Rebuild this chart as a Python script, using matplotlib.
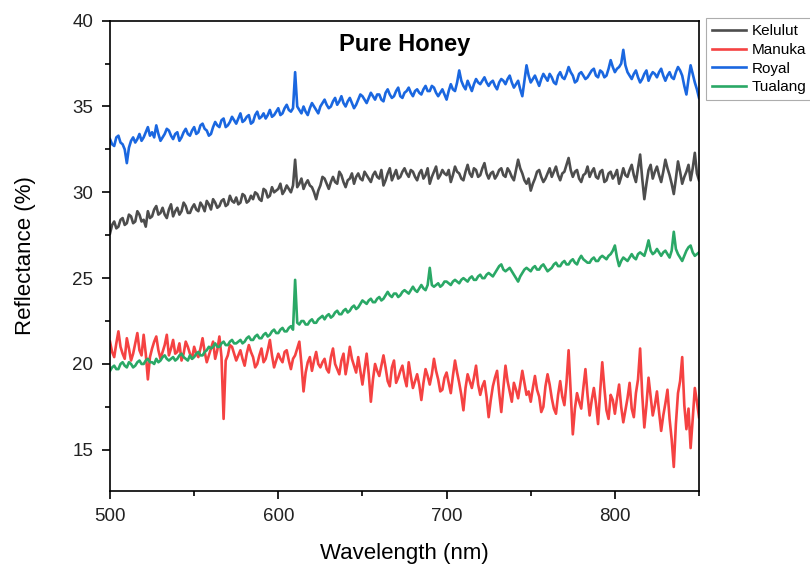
import numpy as np
import matplotlib
matplotlib.use("Agg")
import matplotlib.pyplot as plt
from matplotlib.ticker import MultipleLocator

plt.rcParams['font.family'] = ['Liberation Sans', 'DejaVu Sans']

# wavelength grid (nm), 1.25 nm step
wavelength = np.arange(500, 850.01, 1.25)

kelulut = [
    27.6, 28.1, 28.3, 27.9, 28.0, 28.4, 28.5, 28.1, 28.2, 28.7, 28.6, 28.2, 28.3, 28.9, 28.7, 28.3, 28.4, 28.0, 28.9, 28.5,
    28.6, 29.0, 29.2, 28.7, 28.8, 29.1, 28.7, 28.5, 29.0, 29.3, 28.6, 28.9, 29.1, 28.7, 28.9, 29.4, 29.2, 28.8, 28.8, 29.1,
    29.3, 29.0, 28.9, 29.4, 29.2, 28.9, 29.5, 29.3, 29.0, 29.6, 29.4, 29.1, 29.2, 29.5, 29.6, 29.2, 29.3, 29.8, 29.5, 29.4,
    29.7, 29.3, 29.4, 29.9, 29.8, 29.4, 29.5, 29.8, 29.6, 30.0, 29.9, 29.6, 29.5, 30.2, 30.1, 29.7, 29.8, 30.3, 30.0, 30.1,
    30.2, 30.5, 29.9, 30.1, 30.4, 30.2, 30.0, 30.4, 31.9, 30.3, 30.5, 30.8, 30.2, 30.5, 30.7, 30.4, 30.3, 30.0, 29.6, 30.1,
    30.4, 30.9, 30.8, 30.5, 30.2, 30.6, 30.9, 30.6, 30.5, 31.2, 31.0, 30.6, 30.3, 30.7, 30.8, 31.1, 30.5, 30.9, 31.1, 30.8,
    30.7, 31.2, 31.0, 30.8, 30.6, 31.0, 31.2, 30.9, 30.8, 31.3, 30.4, 30.7, 31.1, 31.4, 30.7, 31.0, 31.3, 30.8, 30.9, 31.2,
    31.4, 31.1, 30.9, 31.3, 31.2, 30.9, 30.7, 31.1, 31.3, 30.8, 31.0, 31.4, 30.5, 30.9, 31.2, 31.5, 30.8, 31.0, 31.3, 31.1,
    31.0, 31.3, 30.6, 31.0, 31.5, 31.2, 31.1, 30.8, 30.7, 31.2, 31.6, 31.1, 30.9, 31.4, 31.3, 30.9, 31.0, 31.4, 31.7, 31.1,
    30.8, 31.1, 31.2, 30.8, 31.0, 31.3, 31.4, 31.0, 30.9, 31.4, 31.2, 30.9, 30.7, 31.3, 31.9, 31.4, 31.1, 30.7, 30.5, 30.8,
    30.1, 30.5, 30.8, 31.2, 31.3, 30.9, 30.6, 30.8, 31.1, 31.4, 30.9, 31.2, 31.5, 31.0, 30.7, 31.1, 31.2, 31.6, 32.0, 31.3,
    30.9, 31.2, 31.3, 30.8, 30.6, 31.0, 31.1, 31.5, 30.9, 31.2, 31.4, 30.9, 30.8, 31.2, 31.3, 30.6, 30.7, 31.1, 31.2, 30.8,
    31.0, 31.3, 30.5, 30.9, 31.4, 31.0, 30.9, 31.3, 31.6, 31.0, 30.6, 31.4, 32.2, 30.8, 29.6, 30.5, 31.3, 31.6, 30.8, 31.2,
    31.5, 31.0, 30.6, 31.2, 31.9, 31.4, 31.0, 30.5, 29.9, 30.8, 31.8, 31.2, 30.5, 30.9, 31.2, 31.6, 30.7, 31.4, 32.3, 31.1,
    30.7,
]

manuka = [
    21.3, 20.7, 20.4, 21.2, 21.9, 21.0, 20.6, 20.3, 21.5, 20.9, 20.2, 20.6, 21.2, 21.8, 20.8, 20.5, 21.7, 20.6, 19.1, 20.4,
    20.9, 21.3, 21.6, 20.8, 20.3, 20.7, 21.1, 21.7, 20.5, 20.9, 21.4, 20.6, 20.7, 21.2, 20.2, 20.6, 21.3, 21.0, 20.6, 20.3,
    21.0, 20.6, 20.4, 20.9, 21.5, 20.7, 20.1, 20.5, 20.9, 21.3, 20.3, 20.8, 21.6, 20.4, 16.8, 20.2, 20.5, 21.1, 21.0, 20.6,
    20.2, 20.5, 20.8, 20.3, 19.9, 20.6, 21.1, 20.7, 20.4, 19.8, 20.0, 20.5, 20.9, 20.1, 20.3, 20.8, 21.4, 20.5, 19.8, 20.2,
    20.6, 20.3, 20.1, 20.7, 20.8, 20.2, 19.7, 20.3, 20.5, 20.9, 21.3, 20.0, 18.4, 19.5, 20.1, 20.4, 19.6, 20.2, 20.7, 20.0,
    19.8, 20.1, 20.3, 19.7, 19.5, 20.4, 20.9, 20.0, 19.7, 19.4, 20.2, 20.6, 19.4, 20.1, 21.0, 20.3, 19.9, 19.5, 20.4, 19.6,
    18.8, 19.7, 20.6, 19.4, 17.8, 19.1, 20.0, 19.6, 19.3, 19.9, 20.5, 19.8, 19.0, 18.7, 19.8, 20.2, 18.9, 19.2, 19.6, 19.9,
    19.2, 18.7, 20.1, 19.3, 18.6, 19.0, 19.4, 18.8, 17.9, 18.9, 19.7, 19.3, 18.8, 19.4, 20.3, 19.6, 19.1, 18.4, 18.5, 19.2,
    19.5, 18.9, 18.3, 19.3, 20.2, 19.5, 18.9, 18.2, 17.3, 18.6, 19.4, 19.0, 18.6, 19.2, 19.9, 18.8, 18.2, 18.7, 19.0, 18.1,
    16.9, 17.9, 18.7, 19.2, 19.6, 18.3, 17.2, 18.6, 19.9, 19.0, 18.4, 17.8, 18.9, 18.5, 18.0, 18.8, 19.6, 18.9, 18.2, 18.4,
    17.8, 18.6, 19.3, 18.5, 18.1, 17.2, 17.5, 18.7, 19.4, 18.8, 18.0, 17.4, 17.1, 18.2, 19.0, 18.1, 17.6, 18.9, 20.8, 18.3,
    15.9, 17.4, 18.3, 17.8, 17.4, 18.6, 19.7, 18.2, 17.0, 17.9, 18.6, 17.7, 16.5, 18.4, 20.1, 18.6, 17.3, 16.8, 18.2, 17.9,
    17.1, 18.0, 18.8, 17.5, 16.6, 17.3, 18.0, 18.9, 17.4, 16.9, 18.3, 19.1, 20.9, 18.2, 16.3, 17.6, 19.2, 18.1, 17.0, 17.6,
    18.4, 17.2, 16.1, 17.0, 17.7, 18.5, 16.8, 15.6, 14.0, 16.5, 18.3, 19.0, 20.4, 17.6, 16.2, 17.4, 15.1, 16.8, 18.6, 17.8,
    16.9,
]

royal = [
    33.1, 32.8, 32.7, 33.2, 33.3, 32.9, 32.8, 32.5, 31.7, 32.6, 33.0, 33.2, 32.9, 33.1, 33.4, 33.0, 33.2, 33.5, 33.8, 33.3,
    33.5, 33.2, 33.9, 33.4, 33.0, 33.2, 33.4, 33.7, 33.6, 33.3, 33.1, 33.4, 33.5, 33.0, 33.2, 33.5, 33.7, 33.4, 33.3, 33.6,
    33.8, 33.4, 33.5, 33.9, 34.0, 33.7, 33.6, 33.3, 33.4, 33.8, 34.1, 33.9, 33.8, 34.2, 34.3, 33.8, 33.9, 34.1, 34.4, 34.2,
    34.0, 34.3, 34.6, 34.1, 34.2, 34.4, 34.5, 34.0, 34.1, 34.5, 34.7, 34.3, 34.4, 34.6, 34.3, 34.5, 34.8, 34.4, 34.5, 34.7,
    34.9, 34.5, 34.6, 34.9, 35.1, 34.8, 34.7, 34.9, 37.0, 35.0, 34.8, 34.6, 35.0, 34.7, 34.5, 34.9, 35.2, 35.0, 34.8, 34.6,
    35.0, 35.2, 35.4, 35.1, 34.9, 35.0, 35.3, 35.5, 35.1, 35.3, 35.6, 35.2, 35.0, 35.3, 35.5, 35.2, 34.9, 35.1, 35.4, 35.7,
    35.6, 35.4, 35.2, 35.5, 35.8, 35.6, 35.4, 35.7, 35.7, 35.4, 35.3, 35.8, 36.0, 35.7, 35.5, 35.6, 35.9, 36.1, 35.6, 35.5,
    35.8, 35.9, 36.1, 35.8, 35.6, 35.9, 36.0, 35.8, 35.7, 36.0, 36.2, 35.9, 35.9, 36.2, 36.1, 35.8, 35.6, 35.8, 36.0, 35.7,
    35.4, 35.9, 36.3, 36.0, 35.9, 36.4, 37.1, 36.5, 36.2, 36.0, 36.5, 36.2, 35.9, 36.3, 36.6, 36.4, 36.3, 36.5, 36.7, 36.4,
    36.2, 36.4, 36.5, 36.2, 36.0, 36.4, 36.6, 36.5, 36.3, 36.6, 36.8, 36.4, 36.1, 36.3, 36.5, 36.0, 35.6, 36.5, 37.4, 36.8,
    36.4, 36.6, 36.8, 36.5, 36.2, 36.6, 36.9, 36.7, 36.5, 36.9, 36.7, 36.4, 36.3, 36.8, 37.0, 36.7, 36.6, 36.9, 37.3, 37.0,
    36.8, 36.4, 36.5, 36.9, 37.0, 36.8, 36.6, 36.7, 36.9, 37.1, 37.2, 36.8, 36.7, 37.1, 37.0, 36.7, 36.8, 37.2, 37.7, 37.3,
    37.0, 37.2, 37.3, 37.5, 38.3, 37.4, 37.0, 36.8, 36.6, 36.9, 37.1, 36.7, 36.4, 36.6, 36.9, 37.1, 36.5, 36.8, 37.0, 36.9,
    36.7, 37.0, 37.2, 36.8, 36.5, 36.8, 37.0, 36.7, 36.6, 37.0, 37.3, 37.1, 36.8, 36.2, 35.7, 36.6, 37.4, 36.9, 36.4, 36.0,
    35.5,
]

tualang = [
    19.6, 19.8, 19.9, 19.7, 19.7, 20.0, 20.1, 19.9, 19.8, 20.1, 20.0, 19.8, 19.9, 20.1, 20.2, 20.0, 20.0, 20.2, 20.3, 20.1,
    20.1, 20.0, 20.3, 20.1, 20.2, 20.4, 20.5, 20.3, 20.2, 20.3, 20.4, 20.2, 20.3, 20.5, 20.6, 20.4, 20.3, 20.2, 20.5, 20.3,
    20.4, 20.6, 20.7, 20.5, 20.5, 20.7, 20.8, 21.0, 20.9, 21.0, 21.2, 21.0, 21.0, 21.2, 21.3, 21.1, 21.1, 21.3, 21.4, 21.2,
    21.2, 21.3, 21.4, 21.2, 21.3, 21.5, 21.6, 21.4, 21.4, 21.6, 21.7, 21.5, 21.5, 21.7, 21.8, 21.6, 21.7, 21.9, 22.0, 21.8,
    21.8, 22.0, 22.1, 21.9, 21.9, 22.1, 22.2, 22.0, 24.9, 22.4, 22.3, 22.5, 22.5, 22.3, 22.3, 22.5, 22.6, 22.4, 22.4, 22.6,
    22.7, 22.8, 22.6, 22.8, 22.9, 22.7, 22.8, 23.0, 23.1, 22.9, 22.9, 23.1, 23.2, 23.0, 23.1, 23.3, 23.4, 23.2, 23.3, 23.5,
    23.7, 23.6, 23.5, 23.7, 23.8, 23.6, 23.6, 23.8, 23.9, 23.7, 23.8, 24.0, 24.2, 24.0, 23.9, 24.1, 24.1, 23.9, 24.0, 24.2,
    24.3, 24.2, 24.1, 24.3, 24.5, 24.3, 24.2, 24.4, 24.6, 24.4, 24.3, 24.6, 25.6, 24.6, 24.5, 24.6, 24.7, 24.5, 24.6, 24.8,
    24.8, 24.7, 24.6, 24.8, 24.9, 24.8, 24.7, 24.9, 25.0, 24.9, 24.8, 25.0, 25.1, 24.9, 24.9, 25.1, 25.2, 25.0, 25.0, 25.2,
    25.3, 25.2, 25.1, 25.3, 25.5, 25.7, 25.8, 25.5, 25.4, 25.5, 25.6, 25.4, 25.2, 25.0, 24.8, 25.1, 25.3, 25.5, 25.6, 25.5,
    25.4, 25.6, 25.7, 25.5, 25.5, 25.7, 25.8, 25.6, 25.4, 25.5, 25.6, 25.8, 25.9, 25.7, 25.7, 25.9, 26.0, 25.8, 25.8, 26.0,
    26.1, 25.9, 25.8, 26.1, 26.3, 26.1, 26.0, 25.9, 25.9, 26.1, 26.2, 26.0, 26.0, 26.2, 26.3, 26.2, 26.1, 26.3, 26.4, 26.6,
    26.9, 26.2, 25.7, 26.0, 26.2, 26.1, 26.0, 26.2, 26.4, 26.2, 26.1, 26.4, 26.5, 26.4, 26.3, 26.7, 27.2, 26.6, 26.4, 26.5,
    26.7, 26.5, 26.3, 26.5, 26.6, 26.4, 26.2, 26.6, 27.7, 26.7, 26.4, 26.2, 26.0, 26.3, 26.6, 26.8, 26.9, 26.5, 26.3, 26.4,
    26.5,
]

series = [
    ("Kelulut", kelulut, "#4d4d4d"),
    ("Manuka", manuka, "#f54242"),
    ("Royal", royal, "#1a67e0"),
    ("Tualang", tualang, "#2aa866"),
]

fig = plt.figure(figsize=(8.1, 5.68), dpi=100)
ax = fig.add_axes([0.1358, 0.1356, 0.7272, 0.828])

for name, values, color in series:
    ax.plot(wavelength, values, color=color, lw=1.9, label=name)

ax.set_xlim(500, 850)
ax.set_ylim(12.6, 40)
ax.xaxis.set_major_locator(MultipleLocator(100))
ax.xaxis.set_minor_locator(MultipleLocator(50))
ax.yaxis.set_major_locator(MultipleLocator(5))
ax.yaxis.set_minor_locator(MultipleLocator(2.5))
ax.tick_params(which="major", direction="out", length=6, width=1.2,
               labelsize=13.5, colors="black", pad=6)
ax.tick_params(which="minor", direction="out", length=3.5, width=1.2)
ax.tick_params(labelcolor="#222222")
for sp in ax.spines.values():
    sp.set_linewidth(1.2)

ax.set_xlabel("Wavelength (nm)", fontsize=16, labelpad=13)
ax.set_ylabel("Reflectance (%)", fontsize=16, labelpad=26)
ax.text(0.5, 0.95, "Pure Honey", transform=ax.transAxes, ha="center",
        va="center", fontsize=17, fontweight="bold")

leg = ax.legend(loc="upper left", bbox_to_anchor=(1.012, 1.005), fontsize=11,
                frameon=True, fancybox=False, edgecolor="#999999",
                handlelength=2.2, handletextpad=0.4, labelspacing=0.3,
                borderpad=0.4, borderaxespad=0.0)
leg.get_frame().set_linewidth(0.8)

fig.savefig("out.png", dpi=100)
